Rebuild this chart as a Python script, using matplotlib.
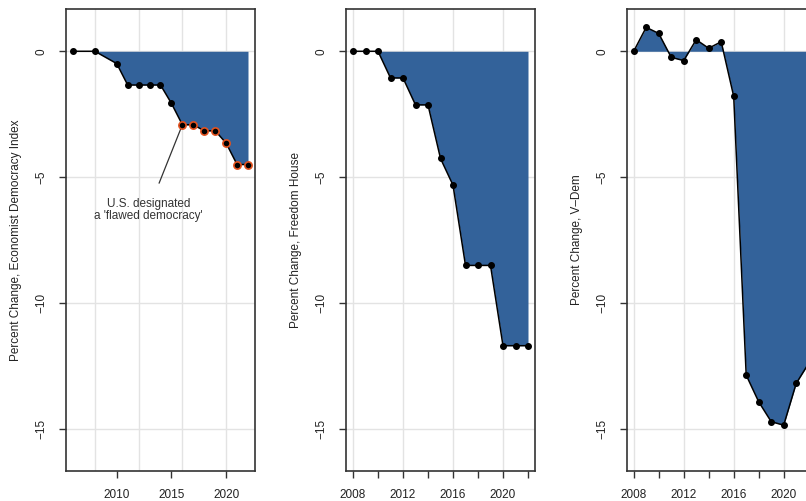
import matplotlib
matplotlib.use("Agg")
import matplotlib.pyplot as plt

plt.rcParams['font.family'] = ['Liberation Sans', 'DejaVu Sans']

# percent change since first year
eiu_years = [2006, 2008, 2010, 2011, 2012, 2013, 2014, 2015, 2016, 2017, 2018, 2019, 2020, 2021, 2022]
eiu_vals = [0, 0, -0.49, -1.34, -1.34, -1.34, -1.34, -2.07, -2.92, -2.92, -3.16, -3.16, -3.65, -4.50, -4.50]

fh_years = list(range(2008, 2023))
fh_vals = [0, 0, 0, -1.06, -1.06, -2.13, -2.13, -4.26, -5.32, -8.51, -8.51, -8.51, -11.70, -11.70, -11.70]

vdem_years = list(range(2008, 2023))
vdem_vals = [0, 0.95, 0.71, -0.24, -0.37, 0.46, 0.12, 0.38, -1.79, -12.87, -13.93, -14.72, -14.86, -13.2, -12.4]

ylabels = ["Percent Change, Economist Democracy Index",
           "Percent Change, Freedom House",
           "Percent Change, V\u2013Dem"]

W, H = 806, 501
fig = plt.figure(figsize=(W / 100, H / 100), dpi=100)

fill_col = '#33629a'
grid_col = '#e3e3e3'


def make_ax(left, xlim, xticks, xticklabels, label, years, vals, highlight_from=None):
    ax = fig.add_axes([left / W, 1 - 471 / H, 189 / W, 462 / H])
    ax.set_xlim(*xlim)
    ax.set_ylim(-16.68, 1.68)
    for gx in [2008, 2012, 2016, 2020]:
        ax.axvline(gx, color=grid_col, lw=1, zorder=0)
    for gy in [0, -5, -10, -15]:
        ax.axhline(gy, color=grid_col, lw=1, zorder=0)
    ax.fill_between(years, vals, 0, color=fill_col, lw=0, interpolate=True, zorder=1)
    ax.plot(years, vals, color='black', lw=1.1, zorder=2)
    ax.plot(years, vals, 'o', color='black', ms=4, zorder=3)
    if highlight_from is not None:
        hx = [x for x in years if x >= highlight_from]
        hy = [v for x, v in zip(years, vals) if x >= highlight_from]
        ax.plot(hx, hy, 'o', mfc='black', mec='#e2521f', mew=1.2, ms=5.2, zorder=4)
    ax.set_xticks(xticks)
    ax.set_xticklabels(xticklabels)
    ax.set_yticks([0, -5, -10, -15])
    ax.set_yticklabels(['0', '\u22125', '\u221210', '\u221215'], rotation=90, va='center')
    ax.tick_params(axis='both', direction='out', length=5, width=1, color='#333333',
                   labelsize=8.5, labelcolor='#222222')
    ax.tick_params(axis='x', pad=8)
    ax.tick_params(axis='y', pad=8)
    for s in ax.spines.values():
        s.set_linewidth(1.2)
        s.set_color('#333333')
    ax.set_ylabel(label, fontsize=8.5, color='#222222', labelpad=10)
    return ax


ax1 = make_ax(66, (2005.36, 2022.64), [2010, 2015, 2020], ['2010', '2015', '2020'],
              ylabels[0], eiu_years, eiu_vals, highlight_from=2016)
ax1.annotate("U.S. designated\na 'flawed democracy'", xy=(2016, -2.92), xytext=(2012.9, -6.3),
             ha='center', va='center', fontsize=8.5, color='#333333', linespacing=1.05,
             arrowprops=dict(arrowstyle='-', color='#333333', lw=0.9, shrinkA=9, shrinkB=2))

t2 = list(range(2008, 2023, 2))
tl2 = [str(t) if (t - 2008) % 4 == 0 else '' for t in t2]
ax2 = make_ax(346, (2007.44, 2022.56), t2, tl2, ylabels[1], fh_years, fh_vals)
ax3 = make_ax(626.7, (2007.44, 2022.56), t2, tl2, ylabels[2], vdem_years, vdem_vals)

fig.savefig('out.png', dpi=100)
